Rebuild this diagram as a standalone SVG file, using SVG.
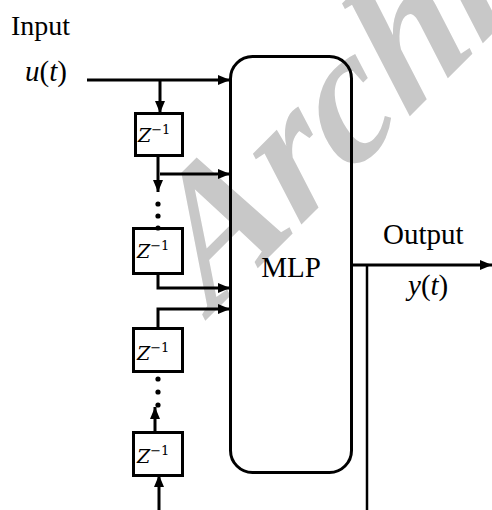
<svg xmlns="http://www.w3.org/2000/svg" width="492" height="510" viewBox="0 0 492 510">
<style>
.ln{fill:none;stroke:#000;stroke-width:3}
.bx{fill:#fff;stroke:#000;stroke-width:3}
.t{font-family:"Liberation Serif","Times New Roman",serif;fill:#000}
.zt{font-family:"DejaVu Serif",serif;fill:#000}
.wm{font-family:"Liberation Serif","Times New Roman",serif;font-style:italic;font-weight:bold;fill:#c8c8c8}
</style>
<defs>
<marker id="ah" viewBox="0 0 12 10" refX="12" refY="5" markerWidth="12" markerHeight="10" markerUnits="userSpaceOnUse" orient="auto">
<path d="M0,0 L12,5 L0,10 z" fill="#000"/>
</marker>
</defs>
<rect width="492" height="510" fill="#fff"/>
<text class="wm" font-size="184" transform="translate(212,314) rotate(-45) skewX(-8)">Archive</text>
<g id="mlp">
<rect x="230.5" y="56.5" width="121" height="416" rx="22" class="ln"/>
<text class="t" x="291" y="277" font-size="29" text-anchor="middle">MLP</text>
</g>
<g id="labels">
<text class="t" x="11" y="35" font-size="28">Input</text>
<text class="t" x="25" y="81" font-size="29"><tspan font-style="italic">u</tspan>(<tspan font-style="italic">t</tspan>)</text>
<text class="t" x="383" y="244" font-size="29">Output</text>
<text class="t" x="408" y="295" font-size="29"><tspan font-style="italic">y</tspan>(<tspan font-style="italic">t</tspan>)</text>
</g>
<g id="d1">
<rect x="135.5" y="113.5" width="47" height="42" class="bx"/>
<text class="zt" x="138" y="142" font-size="19"><tspan font-style="italic">Z</tspan><tspan font-size="13" dy="-8">−1</tspan></text>
</g>
<g id="d2">
<rect x="133.5" y="228.5" width="49" height="45" class="bx"/>
<text class="zt" x="137" y="258" font-size="19"><tspan font-style="italic">Z</tspan><tspan font-size="13" dy="-8">−1</tspan></text>
</g>
<g id="d3">
<rect x="133.5" y="328.5" width="49" height="43" class="bx"/>
<text class="zt" x="137" y="360" font-size="19"><tspan font-style="italic">Z</tspan><tspan font-size="13" dy="-8">−1</tspan></text>
</g>
<g id="d4">
<rect x="133.5" y="432.5" width="49" height="43" class="bx"/>
<text class="zt" x="137" y="463" font-size="19"><tspan font-style="italic">Z</tspan><tspan font-size="13" dy="-8">−1</tspan></text>
</g>
<g id="connectors">
<path class="ln" d="M87,80 H230" marker-end="url(#ah)"/>
<path class="ln" d="M160,80 V113" marker-end="url(#ah)"/>
<path class="ln" d="M158,156 V192" marker-end="url(#ah)"/>
<path class="ln" d="M160,174 H230" marker-end="url(#ah)"/>
<path class="ln" d="M158,274 V288 H230" marker-end="url(#ah)"/>
<path class="ln" d="M158,328 V309 H230" marker-end="url(#ah)"/>
<path class="ln" d="M155,432 V407" marker-end="url(#ah)"/>
<path class="ln" d="M159,510 V475" marker-end="url(#ah)"/>
<path class="ln" d="M352,265 H492" marker-end="url(#ah)"/>
<path d="M367,265 V510" fill="none" stroke="#000" stroke-width="2.5"/>
<g fill="#000">
<circle cx="158" cy="204" r="2.6"/>
<circle cx="158" cy="216" r="2.6"/>
<circle cx="158" cy="228" r="2.6"/>
<circle cx="158" cy="379" r="2.6"/>
<circle cx="158" cy="392" r="2.6"/>
<circle cx="158" cy="405" r="2.6"/>
</g>
</g>
</svg>
